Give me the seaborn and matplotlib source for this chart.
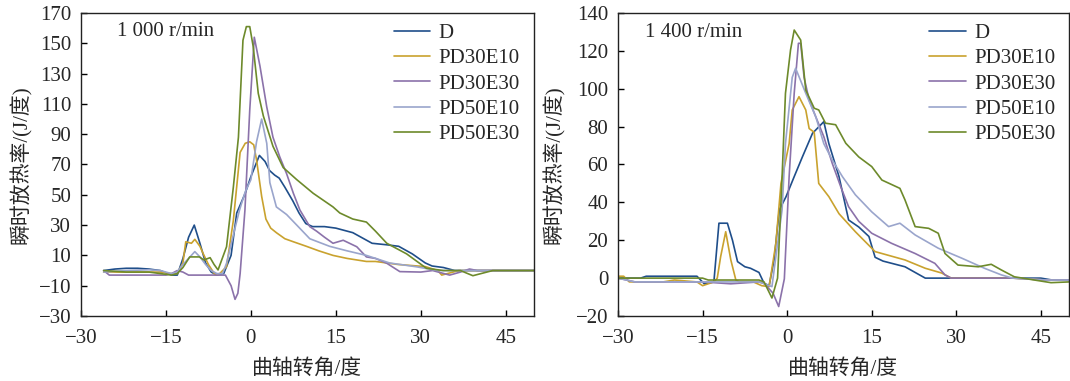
import matplotlib
matplotlib.use('Agg')
import matplotlib.pyplot as plt
import seaborn as sns
import pandas as pd

series_names = ["D", "PD30E10", "PD30E30", "PD50E10", "PD50E30"]
colors = ['#1f4e8a', '#c9a22e', '#8b72aa', '#9aa5cc', '#6d8a2b']

# ---- 1000 r/min ----
d_1000_x = [-26, -24, -22, -20, -18, -16, -14, -13, -12, -11, -10, -9, -8, -7, -6, -4.8, -3.5, -2.5, -1, 0,
            1.5, 2.5, 3.3, 4.2, 5, 6, 7.4, 8.5, 9.7, 10.9, 13, 15, 18, 21.4, 24, 26.1, 28.5, 30.8, 32, 34,
            36, 40, 50]
d_1000_y = [0, 1, 1.5, 1.5, 1, 0, -3, -3, 8, 22, 30, 18, 5, -1, -3, -2, 10, 38, 51, 62,
            76, 72, 66, 63, 61, 55, 46, 38, 31, 29, 29, 28, 25, 18, 17, 16, 11, 5, 3, 2,
            0, 0, 0]

pd3010_1000_x = [-26, -22, -18, -16, -14, -13, -12, -11.5, -10.5, -9.9, -9, -8.4, -7.5, -6.3, -5.5, -4.3, -3.1,
                 -1.9, -1, -0.2, 0.5, 1, 1.9, 2.65, 3.5, 4.5, 6, 7.5, 9.8, 12, 14.5, 17, 20.4, 22, 26, 30.8,
                 33, 33.7, 36.7, 50]
pd3010_1000_y = [-1, -1, -1, -1, -2, -2, 5, 19, 18, 20.6, 16, 11, 4, -3, -2, 2.6, 33,
                 78, 84, 85, 83, 73, 49, 34, 28, 25, 21, 19, 16, 13, 10, 8, 6, 6, 4, 2.6,
                 0, -3, 0, 0]

pd3030_1000_x = [-26, -25, -20, -15, -14, -13, -12, -11, -9, -6, -4.5, -3.5, -2.8, -2.3, -1.9, -1.05, -0.2,
                 0.6, 1.6, 2.8, 3.9, 5.1, 6.3, 7.5, 8.65, 10.4, 11.6, 13, 14.5, 16.3, 18.7, 20.4, 22, 24,
                 26.3, 30, 32.1, 35.1, 37, 38.6, 40, 50]
pd3030_1000_y = [0, -3, -3, -3, -2, 0, -1, -3, -3, -3, -3, -10, -19, -15, -2, 40, 106,
                 154, 135, 108, 88, 75, 64, 51, 40, 29, 26, 22, 18, 20, 15.7, 9, 8, 4.8,
                 -0.7, -1, 0, -3, -1, 1, 0, 0]

pd5010_1000_x = [-26, -22, -18, -16, -14, -13, -12, -11, -9.9, -9, -8, -7, -6, -5, -4.3, -3, -2, -1, 0, 1,
                 1.9, 2.8, 3.35, 4.5, 6.3, 8.1, 10.4, 13.9, 17, 20.4, 24.5, 29.2, 33, 36, 50]
pd5010_1000_y = [-1, 0, 0.5, 0, -2, -1, 4, 8, 12.5, 9, 4, 0, -2, -2, 4.8, 25, 40, 52, 60, 85,
                 100, 84, 58, 42, 37, 30, 21, 16, 13, 10, 5, 2.5, 0, 0, 0]

pd5030_1000_x = [-26, -22, -18, -16, -14, -13, -12, -10.8, -9.1, -8.3, -7.2, -6.5, -5.8, -4.3, -3.1, -2.2,
                 -1.4, -0.8, -0.2, 0.4, 1.3, 2.2, 3.9, 5.7, 8.1, 11, 14.5, 15.7, 18, 20.4, 22, 24, 27.5,
                 31, 34, 37, 39.2, 42.7, 50]
pd5030_1000_y = [0, -1, -1, -2, -3, -2, 2, 9, 9, 7, 8.5, 4, 0.4, 15.7, 55, 88,
                 152, 161, 161, 148, 117, 102, 82, 68, 60, 51, 42, 38, 34, 32, 26, 18, 11,
                 1.5, 0, 0, -3.4, 0, 0]

# ---- 1400 r/min ----
d_1400_x = [-30, -26, -25, -22, -20, -16, -14.7, -13, -12.1, -10.6, -9.7, -8.8, -7.5, -6.5, -5, -4.1, -3.2,
            -2.3, -1.4, -0.2, 1.25, 2.7, 4.5, 6.5, 7.4, 9.2, 10.9, 12.7, 14.5, 15.6, 17, 20.9, 24.5, 30,
            40, 45, 47, 50]
d_1400_y = [0, 0, 1, 1, 1, 1, -3, -2, 29, 29, 20, 8.7, 6, 5.2, 3, -2.7, -4,
            10, 36, 43, 53.6, 64, 76.5, 82.6, 71, 53.6, 30.7, 27, 22, 11, 9, 6, 0, 0,
            0, 0, -1, -1]

pd3010_1400_x = [-30, -29, -28, -22, -20, -16, -15, -13, -12.4, -11.8, -10.9, -10, -9.1, -8.5, -6, -4.5, -3.2,
                 -2, -1.1, 0.35, 0.9, 2.1, 3.3, 3.9, 4.8, 5.6, 7.4, 9.2, 12.1, 15.6, 20.9, 24.5, 27.4,
                 29.1, 40, 46, 50]
pd3010_1400_y = [1, 1, -2, -2, -1, -2, -4, -2, 0, 11.3, 24.5, 9.7, -1, -2, -2, -4, -4.5,
                 18.4, 50, 71, 88.8, 95.8, 88.8, 79, 77, 50, 43, 34, 24.5, 14, 9.6, 5.2, 2.7,
                 0, 0, -1, -1]

pd3030_1400_x = [-30, -27, -20, -15, -10, -5, -4, -2.5, -1.5, -0.5, 0.35, 1.25, 2.0, 2.4, 3.0, 3.9, 5.1,
                 6.5, 8, 9.5, 10.9, 12.7, 15, 18.5, 22.7, 26.2, 28, 29.1, 40, 46, 50]
pd3030_1400_y = [0, -2, -2, -2, -3, -2, -3, -8, -15, -0.4, 53.6, 97.6, 124, 124, 106, 94, 85,
                 74.7, 60.6, 48.3, 37.7, 30, 23.7, 18.4, 13, 7.8, 1.7, 0, 0, -1, -1]

pd5010_1400_x = [-30, -27, -20, -15, -10, -5, -4, -2.7, -0.9, -0.3, 0.9, 1.5, 3.3, 5.1, 6.5, 8, 9.8, 12.1,
                 15, 18, 20, 22.7, 26.8, 31, 35, 38, 40, 46, 50]
pd5010_1400_y = [0, -2, -2, -2, -2, -2, -3, -4.5, 36, 71, 106, 110.8, 97.6, 85, 71, 62.4, 53.6, 44,
                 35, 27.2, 29, 22.8, 15.8, 10.5, 5.2, 1.7, 0, -1, -1]

pd5030_1400_x = [-30, -20, -15, -14, -10, -5, -4.1, -2.7, -1.7, -0.9, -0.3, 0.6, 1.25, 2.4, 3.3, 4.8, 5.6,
                 6.8, 8.6, 10.4, 12.7, 15, 16.8, 20, 20.9, 22.7, 25.1, 26.8, 28, 30.3, 33.9, 36.2, 38,
                 40.3, 46.8, 50]
pd5030_1400_y = [0, 0, 0, -1, -1, -1, -2, -10.5, 0, 53.6, 97.6, 120.5, 131, 125.7, 99.3, 89.7, 88.8,
                 81.8, 81, 71.2, 64, 58.9, 51.8, 47.4, 41.3, 27.2, 26.3, 23.7, 13, 6.9, 6, 7.3, 4.3,
                 0.7, -2.4, -2]


def make_frame(pairs):
    frames = []
    for name, (xs, ys) in zip(series_names, pairs):
        frames.append(pd.DataFrame({'angle': xs, 'hrr': ys, 'fuel': name}))
    return pd.concat(frames, ignore_index=True)


df_1000 = make_frame([(d_1000_x, d_1000_y), (pd3010_1000_x, pd3010_1000_y), (pd3030_1000_x, pd3030_1000_y),
                      (pd5010_1000_x, pd5010_1000_y), (pd5030_1000_x, pd5030_1000_y)])
df_1400 = make_frame([(d_1400_x, d_1400_y), (pd3010_1400_x, pd3010_1400_y), (pd3030_1400_x, pd3030_1400_y),
                      (pd5010_1400_x, pd5010_1400_y), (pd5030_1400_x, pd5030_1400_y)])

sns.set_theme(style='ticks')
plt.rcParams['font.family'] = ['Liberation Serif', 'Noto Sans CJK SC']
plt.rcParams['xtick.direction'] = 'in'
plt.rcParams['ytick.direction'] = 'in'
plt.rcParams['axes.unicode_minus'] = True

fig = plt.figure(figsize=(10.7, 3.81), dpi=100)
ax1 = fig.add_axes([0.0757, 0.1706, 0.4234, 0.7953])
ax2 = fig.add_axes([0.5776, 0.1706, 0.4215, 0.7953])

panels = [
    (ax1, df_1000, (-30, 170), range(-30, 171, 20), '1 000 r/min', 0.079, 0.94, -0.108),
    (ax2, df_1400, (-20, 140), range(-20, 141, 20), '1 400 r/min', 0.06, 0.934, -0.117),
]

for ax, df, ylim, yticks, speed, tx, ty, ylab_x in panels:
    sns.lineplot(data=df, x='angle', y='hrr', hue='fuel', palette=colors, hue_order=series_names,
                 estimator=None, linewidth=1.2, ax=ax)
    ax.set_xlim(-30, 50)
    ax.set_ylim(*ylim)
    ax.set_xticks(range(-30, 46, 15))
    ax.set_yticks(list(yticks))
    ax.tick_params(axis='both', labelsize=15, length=4, width=1, color='black', top=False, right=False)
    ax.tick_params(axis='x', pad=9)
    ax.tick_params(axis='y', pad=7)
    for sp in ax.spines.values():
        sp.set_color('#222222')
        sp.set_linewidth(1.0)
    ax.set_xlabel('曲轴转角/度', fontsize=15, labelpad=8)
    ax.set_ylabel('瞬时放热率/(J/度)', fontsize=15)
    ax.yaxis.set_label_coords(ylab_x, 0.5)
    ax.text(tx, ty, speed, transform=ax.transAxes, fontsize=15, va='center', ha='left')
    ax.legend(loc='upper left', bbox_to_anchor=(0.69, 0.965), frameon=False, fontsize=15,
              handlelength=1.75, handletextpad=0.4, labelspacing=0.27, borderaxespad=0, borderpad=0)

fig.savefig('out.png', dpi=100)
